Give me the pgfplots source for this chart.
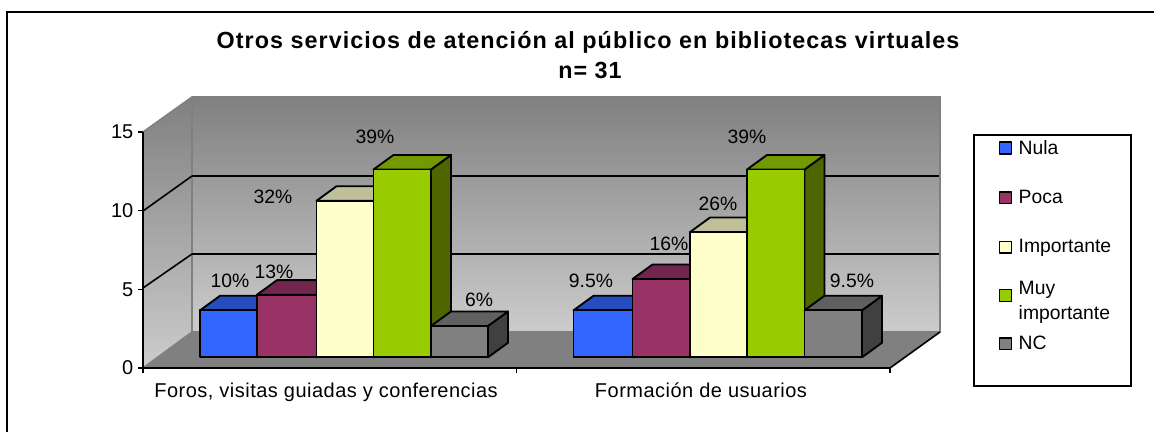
\documentclass[border=0pt]{standalone}
\usepackage{pgfplots}
\pgfplotsset{compat=1.18}
\usepackage{fontspec}
\setmainfont{Liberation Sans}
\definecolor{cblue}{HTML}{3366FF}\definecolor{cbluet}{HTML}{264DBF}\definecolor{cblues}{HTML}{1A3380}
\definecolor{cpur}{HTML}{993366}\definecolor{cpurt}{HTML}{73264D}\definecolor{cpurs}{HTML}{4D1A33}
\definecolor{ccre}{HTML}{FFFFCC}\definecolor{ccret}{HTML}{BFBF99}\definecolor{ccres}{HTML}{808066}
\definecolor{cgrn}{HTML}{99CC00}\definecolor{cgrnt}{HTML}{739900}\definecolor{cgrns}{HTML}{4D6600}
\definecolor{cgry}{HTML}{808080}\definecolor{cgryt}{HTML}{606060}\definecolor{cgrys}{HTML}{404040}
\definecolor{wall}{HTML}{808080}
% x0, x1, value, colour stem, extra front options
\newcommand\threedbar[5]{%
  \pgfmathsetmacro\xa{#1+20}\pgfmathsetmacro\xb{#2+20}\pgfmathsetmacro\vv{#3+0.93}%
  \edef\tmp{\noexpand\addplot[forget plot,draw=black,line width=1.4pt,line join=round,fill=#4s] coordinates {(#2,0)(\xb,0.93)(\xb,\vv)(#2,#3)} --cycle;
  \noexpand\addplot[forget plot,draw=black,line width=1.4pt,line join=round,fill=#4t] coordinates {(#1,#3)(#2,#3)(\xb,\vv)(\xa,\vv)} --cycle;
  \noexpand\addplot[#5,draw=black,line width=1.4pt,line join=round,fill=#4] coordinates {(#1,0)(#2,0)(#2,#3)(#1,#3)} --cycle;}\tmp}
\begin{document}
\begin{tikzpicture}
% --- canvas, walls and floor, in pixels of the picture
\begin{axis}[at={(0,0)},anchor=south west,scale only axis,width=865.5pt,height=324pt,
  xmin=0,xmax=1154,ymin=0,ymax=432,y dir=reverse,hide axis]
\path[fill=white] (0,0) rectangle (1154,432);
\draw[line width=1.6pt] (7,433) -- (7,12) -- (1155,12);
\path[top color=wall,bottom color=black!20] (192,97) -- (940,97) -- (940,332) -- (192,332) -- cycle;
\path[top color=wall,bottom color=black!20] (143,132) -- (192,97) -- (192,332) -- (143,368) -- cycle;
\path[fill=wall] (143,368) -- (192,332) -- (940,332) -- (890,368) -- cycle;
\draw[line width=1.2pt,black!50] (143,132) -- (192,97) -- (940,97) -- (940,332) -- (192,332) -- (192,97);
\draw[line width=1.2pt,black!50] (192,332) -- (143,368);
\draw[line width=1.2pt] (192,176) -- (939,176) (192,254) -- (939,254);
\draw[line width=1.2pt] (143,211) -- (192,176) (143,288) -- (192,254) (890,368) -- (940,332);
\node[font=\fontsize{17.5}{19}\selectfont\bfseries\addfontfeature{LetterSpace=4.5},align=center] at (588,42) {Otros servicios de atención al público en bibliotecas virtuales};
\node[font=\fontsize{17.5}{19}\selectfont\bfseries\addfontfeature{LetterSpace=4.5}] at (590,70) {n= 31};
\draw[line width=1.2pt] (974,135) rectangle (1131,386);
\end{axis}
% --- the front axes: y is the value scale, x the two categories
\begin{axis}[at={(107.25pt,48pt)},anchor=south west,scale only axis,width=560.25pt,height=177pt,
  xmin=0,xmax=2,ymin=0,ymax=15,axis lines=left,axis line style={-,line width=1.3pt},
  ytick={0,5,10,15},xtick={0.49,1.494},xticklabels={{Foros, visitas guiadas y conferencias},{Formación de usuarios}},
  minor xtick={0,1,2},major x tick style={draw=none},minor x tick style={black,line width=1pt},
  y tick style={black,line width=1pt},
  tick align=outside,major tick length=3.75pt,minor tick length=3.75pt,
  /pgf/number format/assume math mode=true,
  yticklabel style={font=\fontsize{15}{17}\selectfont},
  xticklabel style={yshift=-4pt,font=\fontsize{15}{17}\selectfont\addfontfeature{LetterSpace=2.4}}]
\end{axis}
% --- the bars: y is the value, x in pixels
\begin{axis}[at={(0,0)},anchor=south west,scale only axis,width=865.5pt,height=324pt,
  xmin=0,xmax=1154,ymin=-4.773,ymax=22.831,hide axis,clip=false,
  legend style={at={(999/1154,1-140/432)},anchor=north west,draw=none,fill=none,
    row sep=25.6pt,inner sep=0pt,outer sep=0pt,font=\fontsize{14.5}{16}\selectfont,
    nodes={inner sep=0pt},cells={anchor=west}},
  legend image code/.code={\draw[#1,line width=1pt] (0,-4.4pt) rectangle (8.8pt,4.4pt);\path (13.6pt,0);}]
\threedbar{200}{257}{3}{cblue}{}
\addlegendentry{Nula}
\threedbar{257}{316.5}{4}{cpur}{}
\addlegendentry{Poca}
\threedbar{316.5}{373.5}{10}{ccre}{}
\addlegendentry{Importante}
\threedbar{373.5}{431}{12}{cgrn}{}
\addlegendentry{\smash{\parbox[t]{90pt}{\baselineskip=18.5pt Muy\\importante}}}
\threedbar{431}{488}{2}{cgry}{}
\addlegendentry{NC}
\threedbar{573.5}{632.5}{3}{cblue}{forget plot}
\threedbar{632.5}{690}{5}{cpur}{forget plot}
\threedbar{690}{747}{8}{ccre}{forget plot}
\threedbar{747}{804.5}{12}{cgrn}{forget plot}
\threedbar{804.5}{862}{3}{cgry}{forget plot}
\begin{scope}[every node/.style={font=\fontsize{14.5}{16}\selectfont,inner sep=0pt}]
\node at (230,4.875) {10\%};
\node at (274,5.45) {13\%};
\node at (273,10.24) {32\%};
\node at (375,14.08) {39\%};
\node at (479,3.66) {6\%};
\node at (591,4.875) {9.5\%};
\node at (669,7.24) {16\%};
\node at (718,9.80) {26\%};
\node at (747,14.08) {39\%};
\node at (852,4.875) {9.5\%};
\end{scope}
\end{axis}
\end{tikzpicture}
\end{document}
